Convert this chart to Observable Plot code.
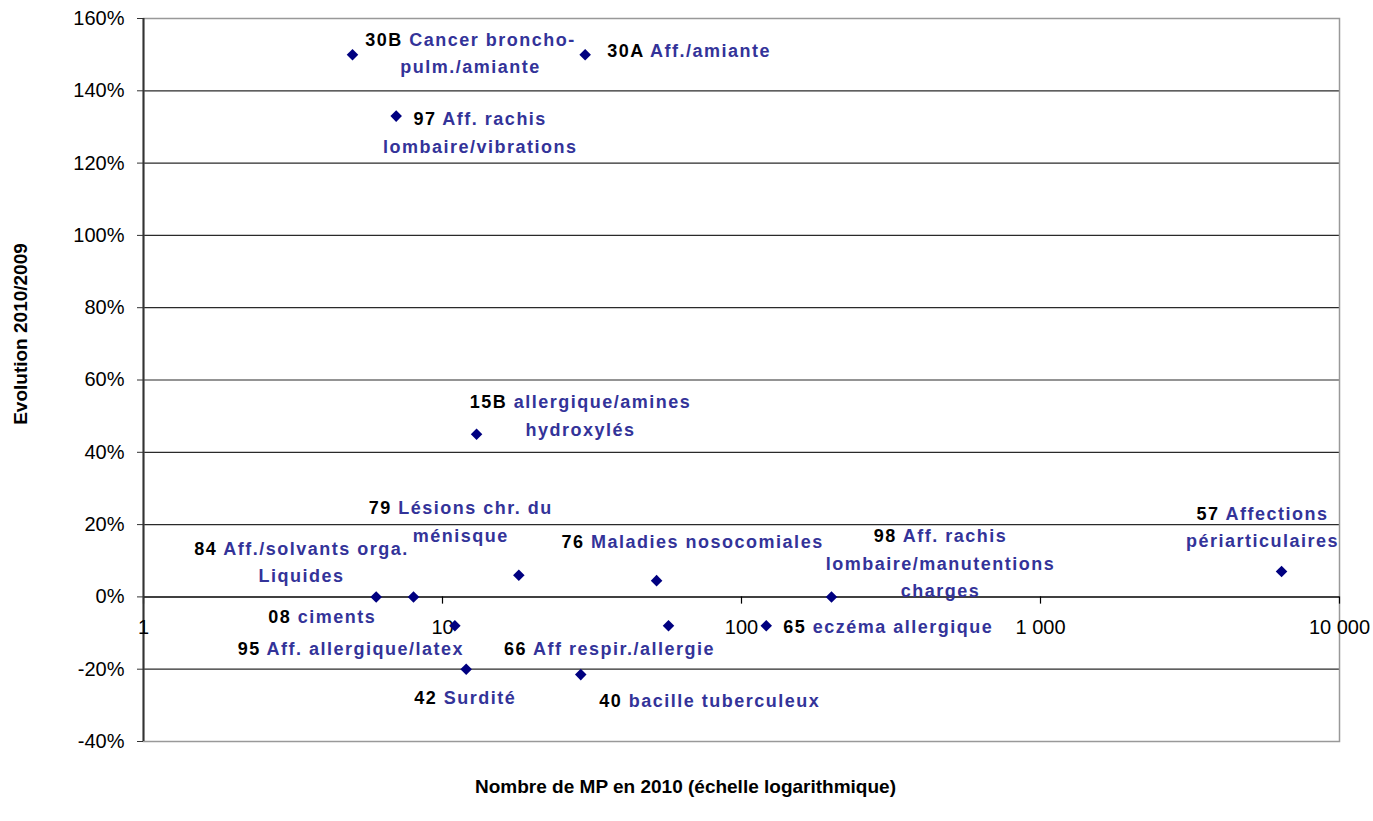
<!DOCTYPE html>
<html><head><meta charset="utf-8">
<script src="https://cdn.jsdelivr.net/npm/d3@7"></script>
<script src="https://cdn.jsdelivr.net/npm/@observablehq/plot@0.6"></script>
<style>body{margin:0;background:#fff}</style>
</head><body><div id="chart"></div>
<script>
// ---- data ----
const codes = ["30B","30A","97","15B","79","76","84","08","95","42","40","66","65","98","57"];
const names = [
  "Cancer broncho-\npulm./amiante",
  "Aff./amiante",
  "Aff. rachis\nlombaire/vibrations",
  "allergique/amines\nhydroxylés",
  "Lésions chr. du\nménisque",
  "Maladies nosocomiales",
  "Aff./solvants orga.\nLiquides",
  "ciments",
  "Aff. allergique/latex",
  "Surdité",
  "bacille tuberculeux",
  "Aff respir./allergie",
  "eczéma allergique",
  "Aff. rachis\nlombaire/manutentions\ncharges",
  "Affections\npériarticulaires"
];
const counts2010 = [5, 30, 7, 13, 18, 52, 8, 6, 11, 12, 29, 57, 121, 200, 6400];
const evolution  = [1.50, 1.50, 1.33, 0.45, 0.06, 0.045, 0, 0, -0.08, -0.20, -0.215, -0.08, -0.08, 0, 0.07];
const yTicks = [-0.4, -0.2, 0, 0.2, 0.4, 0.6, 0.8, 1.0, 1.2, 1.4, 1.6];
const xTicks = [1, 10, 100, 1000, 10000];
const xTickLabels = ["1", "10", "100", "1 000", "10 000"];
const yTitle = "Evolution 2010/2009";
const xTitle = "Nombre de MP en 2010 (échelle logarithmique)";

// label placement (pixel offsets of the label block centre from its point)
const labelOffsets = [[118,-4],[104,-6],[84,14],[104,-21],[-58,-56],[36,-41],[-112,-37],[-54,17],[-104,20],[-1,26],[129,24],[-59,20],[122,-2],[109,-36],[-19,-47]];

const data = codes.map((c, i) => ({code: c, name: names[i], x: counts2010[i], y: evolution[i]}));
const firstLines = new Map(data.map(d => [d.code + " " + d.name.split("\n")[0], d.code]));

const FONT = "'Liberation Sans', Arial, sans-serif";
const labelMarks = data.map((d, i) => Plot.text([d], {
  x: "x", y: "y", text: e => e.code + " " + e.name,
  dx: labelOffsets[i][0], dy: labelOffsets[i][1],
  textAnchor: "middle", lineAnchor: "middle", lineHeight: 1.52,
  fontSize: 18, fontWeight: "bold", fill: "#333399"
}));

const chart = Plot.plot({
  width: 1373, height: 821,
  marginLeft: 143, marginRight: 34, marginTop: 18, marginBottom: 80,
  style: {fontFamily: FONT, background: "#fff", overflow: "visible"},
  x: {type: "log", domain: [1, 10000], axis: null},
  y: {domain: [-0.4, 1.6], axis: null},
  marks: [
    Plot.ruleY(yTicks.filter(v => v > -0.4 && v < 1.6 && v !== 0), {stroke: "#2a2a2a", strokeWidth: 1.2}),
    Plot.frame({stroke: "#999", strokeWidth: 1.5}),
    Plot.ruleY([0], {stroke: "#000", strokeWidth: 1.5}),
    Plot.ruleX(xTicks, {x: d => d, y1: 0, y2: -0.02, stroke: "#000", strokeWidth: 1.2}),
    Plot.ruleX([1], {stroke: "#333", strokeWidth: 2}),
    Plot.axisY(yTicks, {tickFormat: d => Math.round(d * 100) + "%", tickSize: 6, tickPadding: 13, fontSize: 20, stroke: "#333", fill: "#000", label: null}),
    Plot.text(xTicks, {x: d => d, y: 0, text: (d, i) => xTickLabels[i], dy: 31, fontSize: 20, fill: "#000"}),
    Plot.text([yTitle], {frameAnchor: "left", textAnchor: "middle", lineAnchor: "middle", rotate: -90, dx: -123, dy: -46, fontSize: 19, fontWeight: "bold", fill: "#000"}),
    Plot.text([xTitle], {frameAnchor: "bottom", textAnchor: "middle", lineAnchor: "middle", dx: -56, dy: 45, fontSize: 19, fontWeight: "bold", fill: "#000"}),
    Plot.dot(data, {x: "x", y: "y", symbol: "diamond2", r: 5.2, fill: "#000080", stroke: null}),
    ...labelMarks
  ]
});
document.getElementById("chart").appendChild(chart);

// colour the code (first word) of each label black, add letter spacing
chart.querySelectorAll("text").forEach(t => {
  const tspans = t.querySelectorAll("tspan");
  const node = tspans.length ? tspans[0] : t;
  const s = node.textContent;
  if (!firstLines.has(s)) return;
  const code = firstLines.get(s);
  t.style.letterSpacing = "1.5px";
  node.textContent = "";
  const ts = document.createElementNS("http://www.w3.org/2000/svg", "tspan");
  ts.setAttribute("fill", "#000");
  ts.textContent = code;
  node.appendChild(ts);
  node.appendChild(document.createTextNode(s.slice(code.length)));
});
</script>
</body></html>
